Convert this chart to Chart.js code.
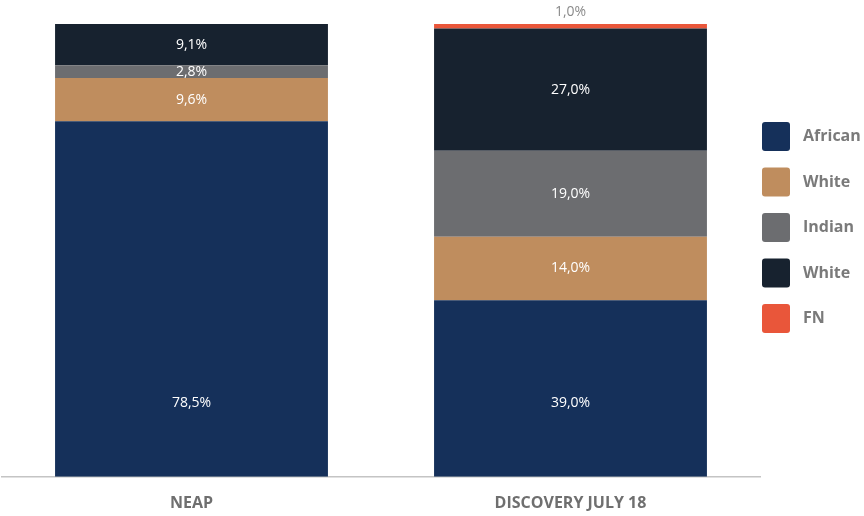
<!DOCTYPE html>
<html>
<head>
<meta charset="utf-8">
<script src="https://cdn.jsdelivr.net/npm/chart.js@4/dist/chart.umd.min.js"></script>
<style>
  html, body { margin: 0; padding: 0; background: #fff; }
  #wrap { width: 864px; height: 516px; position: relative; }
</style>
</head>
<body>
<div id="wrap"><canvas id="chart"></canvas></div>
<script>
var categories = ['NEAP', 'DISCOVERY JULY 18'];
var seriesNames = ['African', 'White', 'Indian', 'White', 'FN'];
var african = [78.5, 39.0];
var whiteTan = [9.6, 14.0];
var indian = [2.8, 19.0];
var whiteDark = [9.1, 27.0];
var fn = [0, 1.0];
var seriesColors = ['#15305a', '#bf8d5e', '#6c6d70', '#17222f', '#e9563a'];

var font = "'Open Sans', 'Noto Sans', sans-serif";

function fmt(v) {
  return v.toFixed(1).replace('.', ',') + '%';
}

// draws value labels inside each segment (small ones sit above the bar,
// the bottom segment's label sits a fixed distance above the axis)
var valueLabels = {
  id: 'valueLabels',
  afterDatasetsDraw: function (chart) {
    var ctx = chart.ctx;
    ctx.save();
    ctx.font = '14px ' + font;
    ctx.textAlign = 'center';
    ctx.textBaseline = 'middle';
    chart.data.datasets.forEach(function (ds, di) {
      var meta = chart.getDatasetMeta(di);
      meta.data.forEach(function (bar, i) {
        var v = ds.data[i];
        if (!v) return;
        var h = bar.base - bar.y;
        if (h < 10) {
          ctx.fillStyle = '#8a8a8a';
          ctx.fillText(fmt(v), bar.x, bar.y - 12);
        } else if (di === 0) {
          ctx.fillStyle = '#ffffff';
          ctx.fillText(fmt(v), bar.x, bar.base - 74);
        } else {
          ctx.fillStyle = '#ffffff';
          ctx.fillText(fmt(v), bar.x, (bar.y + bar.base) / 2);
        }
      });
    });
    ctx.restore();
  }
};

// legend on the right side
var sideLegend = {
  id: 'sideLegend',
  afterDraw: function (chart) {
    var ctx = chart.ctx;
    var x = chart.chartArea.right + 2;
    var y0 = 122;
    var step = 45.5;
    ctx.save();
    ctx.font = 'bold 16px ' + font;
    ctx.textBaseline = 'middle';
    ctx.textAlign = 'left';
    chart.data.datasets.forEach(function (ds, di) {
      var y = y0 + di * step;
      ctx.fillStyle = ds.backgroundColor;
      ctx.beginPath();
      ctx.roundRect(x, y, 28, 29, 3);
      ctx.fill();
      ctx.fillStyle = '#7a7a7a';
      ctx.fillText(ds.label, x + 41, y + 14.5);
    });
    ctx.restore();
  }
};

var datasets = [african, whiteTan, indian, whiteDark, fn].map(function (d, i) {
  return {
    label: seriesNames[i],
    data: d,
    backgroundColor: seriesColors[i],
    borderWidth: 0,
    barPercentage: 0.72,
    categoryPercentage: 1.0
  };
});

new Chart(document.getElementById('chart'), {
  type: 'bar',
  data: { labels: categories, datasets: datasets },
  options: {
    responsive: true,
    maintainAspectRatio: false,
    animation: false,
    layout: { padding: { left: 2, right: 104, top: 24, bottom: -6 } },
    plugins: {
      legend: { display: false },
      tooltip: { enabled: false }
    },
    scales: {
      x: {
        stacked: true,
        grid: { display: false },
        border: { display: true, color: '#c4c4c4', width: 1.5 },
        ticks: {
          color: '#6f6f6f',
          padding: 9,
          font: { family: font, size: 16, weight: 'bold' }
        }
      },
      y: {
        stacked: true,
        display: false,
        min: 0,
        max: 100
      }
    }
  },
  plugins: [valueLabels, sideLegend]
});
</script>
</body>
</html>
